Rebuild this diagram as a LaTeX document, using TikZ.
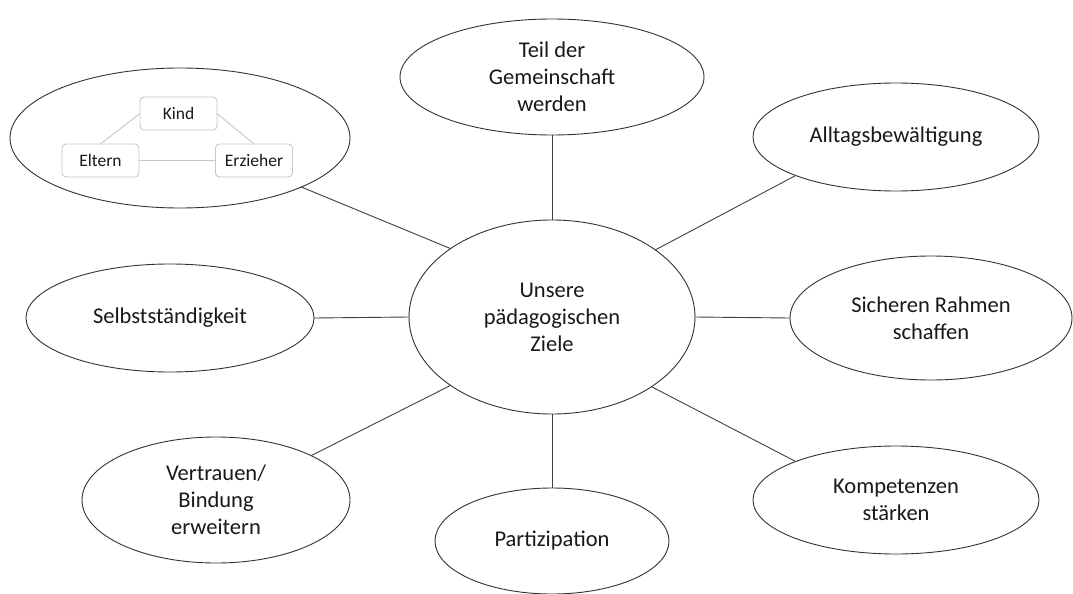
\documentclass[tikz,border=0pt]{standalone}
\usepackage{fontspec}
\setmainfont{Carlito}
\usetikzlibrary{shapes.geometric}
\tikzset{
  goal/.style={draw=black!80, line width=0.9pt, ellipse, inner sep=0pt, outer sep=0pt,
    align=center, font=\fontsize{22.5}{27}\selectfont, text=black!90},
  rel/.style={draw=black!22, line width=0.9pt, rounded corners=4pt, minimum width=77pt,
    minimum height=33pt, inner sep=0pt, outer sep=0pt, font=\fontsize{17.5}{21}\selectfont, text=black!90},
  relline/.style={draw=black!22, line width=0.9pt},
  conn/.style={draw=black!75, line width=0.9pt}
}
\begin{document}
\begin{tikzpicture}[x=1pt,y=-1pt]
\useasboundingbox[fill=white] (0,0) rectangle (1073,594);
% center
\node[goal, minimum width=286pt, minimum height=194pt] (z) at (552,317) {Unsere\\pädagogischen\\Ziele};
% satellites
\node[goal, minimum width=304pt, minimum height=116pt] (teil) at (552,77) {Teil der\\Gemeinschaft\\werden};
\node[goal, minimum width=340pt, minimum height=140pt] (triad) at (180,138) {};
\node[goal, minimum width=286pt, minimum height=108pt] (alltag) at (896,137) {Alltagsbewältigung};
\node[goal, minimum width=288pt, minimum height=108pt] (selbst) at (170,318) {Selbstständigkeit};
\node[goal, minimum width=282pt, minimum height=124pt] (rahmen) at (931,318) {Sicheren Rahmen\\schaffen};
\node[goal, minimum width=268pt, minimum height=126pt] (vertrauen) at (216,500) {Vertrauen/\\Bindung\\erweitern};
\node[goal, minimum width=234pt, minimum height=106pt] (partizipation) at (552,541) {Partizipation};
\node[goal, minimum width=286pt, minimum height=108pt] (kompetenz) at (896,500) {Kompetenzen\\stärken};
% triad inside top-left ellipse
\node[rel] (kind) at (178.5,113.5) {Kind};
\node[rel] (eltern) at (100.5,160.5) {Eltern};
\node[rel] (erzieher) at (254,160.5) {Erzieher};
\draw[relline] (kind.west) -- (eltern.north);
\draw[relline] (kind.east) -- (erzieher.north);
\draw[relline] (eltern.east) -- (erzieher.west);
% connectors
\draw[conn] (z.90) -- (teil.270);
\draw[conn] (z.146) -- (triad.-22.3);
\draw[conn] (z.33.8) -- (alltag.201.7);
\draw[conn] (z.180) -- (selbst.0);
\draw[conn] (z.0) -- (rahmen.180);
\draw[conn] (z.214.8) -- (vertrauen.25.1);
\draw[conn] (z.270) -- (partizipation.90);
\draw[conn] (z.325.4) -- (kompetenz.159.4);
\end{tikzpicture}
\end{document}
